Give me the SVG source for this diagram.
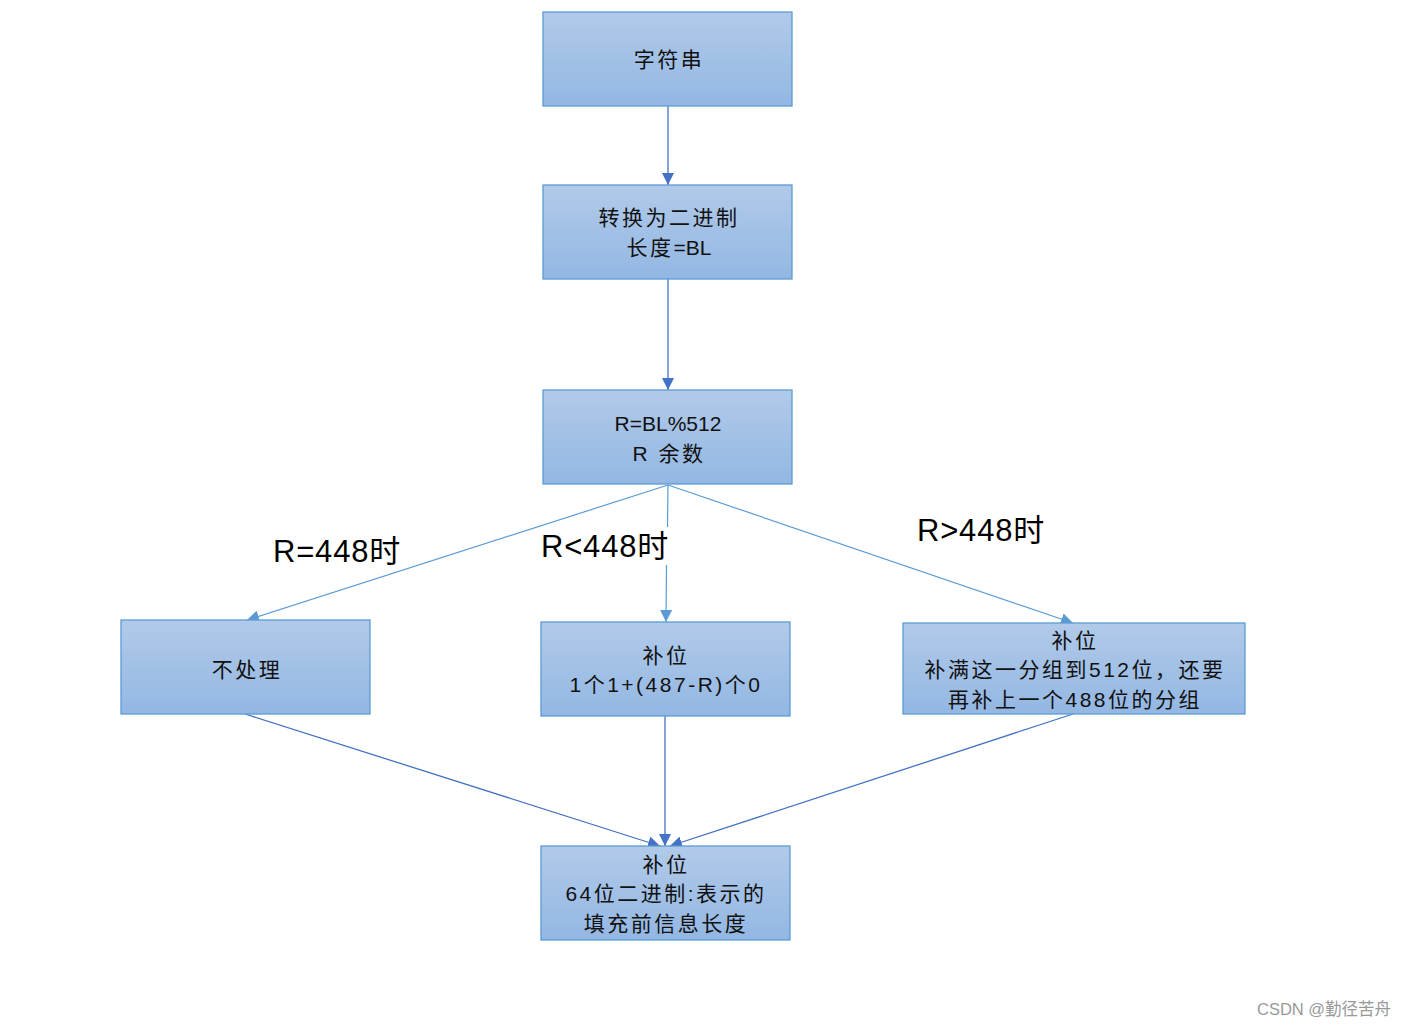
<svg xmlns="http://www.w3.org/2000/svg" width="1409" height="1027" viewBox="0 0 1409 1027">
<defs>
<linearGradient id="g" x1="0" y1="0" x2="0" y2="1">
<stop offset="0" stop-color="#b1cae9"/>
<stop offset="1" stop-color="#93b7e3"/>
</linearGradient>
<marker id="ad" viewBox="0 0 10 10" refX="10" refY="5" markerWidth="12" markerHeight="12" markerUnits="userSpaceOnUse" orient="auto">
<path d="M0,0 L10,5 L0,10 Z" fill="#4472c4"/>
</marker>
<marker id="al" viewBox="0 0 10 10" refX="10" refY="5" markerWidth="12" markerHeight="12" markerUnits="userSpaceOnUse" orient="auto">
<path d="M0,0 L10,5 L0,10 Z" fill="#5b9bd5"/>
</marker>
</defs>
<style>
.box{fill:url(#g);stroke:#5b9bd5;stroke-width:1.3}
.t{font-family:"Liberation Sans","Noto Sans CJK SC",sans-serif;font-size:21px;fill:#111;text-anchor:middle;letter-spacing:2.5px}
.l{letter-spacing:0}
.lbl{font-family:"Liberation Sans","Noto Sans CJK SC",sans-serif;font-size:31px;fill:#000;letter-spacing:0.8px}
.cd{stroke:#4472c4;stroke-width:1.3;fill:none}
.cl{stroke:#5b9bd5;stroke-width:1.2;fill:none}
</style>
<rect width="1409" height="1027" fill="#fff"/>
<g id="connectors">
<line class="cd" x1="668" y1="106" x2="668" y2="185" marker-end="url(#ad)"/>
<line class="cd" x1="668" y1="279" x2="668" y2="390" marker-end="url(#ad)"/>
<line class="cl" x1="668" y1="485" x2="247" y2="620" marker-end="url(#al)"/>
<line class="cl" x1="668" y1="485" x2="667.5" y2="527"/>
<line class="cl" x1="666.5" y1="565" x2="666" y2="622" marker-end="url(#al)"/>
<line class="cl" x1="668" y1="485" x2="1073" y2="623" marker-end="url(#al)"/>
<line class="cd" x1="245" y1="714" x2="660" y2="846" marker-end="url(#ad)"/>
<line class="cd" x1="665" y1="716" x2="665" y2="846" marker-end="url(#ad)"/>
<line class="cd" x1="1073" y1="714" x2="670" y2="846" marker-end="url(#ad)"/>
</g>
<g id="n1"><rect class="box" x="543" y="12" width="249" height="94"/><text class="t" x="669" y="67">字符串</text></g>
<g id="n2"><rect class="box" x="543" y="185" width="249" height="94"/><text class="t" x="669" y="225">转换为二进制</text><text class="t" x="669" y="255">长度<tspan class="l">=BL</tspan></text></g>
<g id="n3"><rect class="box" x="543" y="390" width="249" height="94"/><text class="t l" x="668" y="431">R=BL%512</text><text class="t" x="669" y="461">R  余数</text></g>
<g id="n4"><rect class="box" x="121" y="620" width="249" height="94"/><text class="t" x="247" y="677">不处理</text></g>
<g id="n5"><rect class="box" x="541" y="622" width="249" height="94"/><text class="t" x="666" y="663">补位</text><text class="t" x="666" y="692">1个1+(487-R)个0</text></g>
<g id="n6"><rect class="box" x="903" y="623" width="342" height="91"/><text class="t" x="1075" y="648">补位</text><text class="t" x="1075" y="677">补满这一分组到512位，还要</text><text class="t" x="1075" y="707">再补上一个488位的分组</text></g>
<g id="n7"><rect class="box" x="541" y="846" width="249" height="94"/><text class="t" x="666" y="872">补位</text><text class="t" x="666" y="901">64位二进制:表示的</text><text class="t" x="666" y="931">填充前信息长度</text></g>
<g id="labels">
<text class="lbl" x="273" y="562">R=448时</text>
<text class="lbl" x="541" y="557">R&lt;448时</text>
<text class="lbl" x="917" y="541">R&gt;448时</text>
</g>
<text x="1257" y="1015" font-family="Liberation Sans,'Noto Sans CJK SC',sans-serif" font-size="16.5" fill="#999">CSDN @勤径苦舟</text>
</svg>
